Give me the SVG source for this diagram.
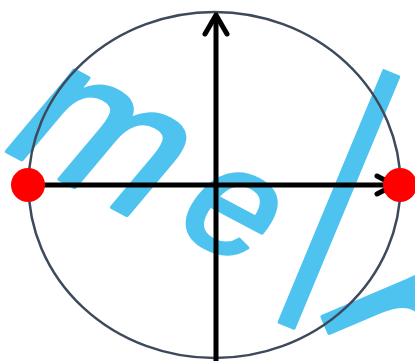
<svg xmlns="http://www.w3.org/2000/svg" width="415" height="361" viewBox="0 0 415 361">
  <style>
    .wm { fill: #4fc3ef; stroke: #4fc3ef; stroke-width: 4; stroke-linejoin: round; font-family: "Liberation Sans", Arial, sans-serif; }
    .axis { stroke: #000; stroke-width: 5; fill: none; stroke-linecap: round; stroke-linejoin: round; }
    .dot { fill: #ff0000; }
  </style>
  <rect width="415" height="361" fill="#ffffff"/>
  <g id="watermark">
    <text class="wm" font-size="195" transform="translate(-5,145) rotate(28) skewX(-12)">m</text>
    <text class="wm" font-size="155" transform="translate(168,226) rotate(28) skewX(-10)">e</text>
    <text class="wm" font-size="290" stroke-width="0" transform="translate(286,258) rotate(22.6) scale(0.7,1)">|</text>
    <text class="wm" font-size="200" transform="translate(317,304) rotate(67)">r</text>
  </g>
  <g id="circle">
    <ellipse cx="214.5" cy="185" rx="186" ry="173" fill="none" stroke="#3d4a5c" stroke-width="2.5"/>
  </g>
  <g id="connectors">
    <g id="y-axis">
      <line class="axis" x1="216" y1="361" x2="216" y2="16"/>
      <polyline class="axis" points="205,34 216,15 227,34"/>
    </g>
    <g id="x-axis">
      <line class="axis" x1="28" y1="185" x2="394" y2="185" stroke-width="4.5"/>
      <polyline class="axis" points="377,176 394,185 377,194"/>
    </g>
  </g>
  <g id="point-left">
    <circle class="dot" cx="28" cy="185" r="17"/>
  </g>
  <g id="point-right">
    <circle class="dot" cx="400" cy="185" r="17"/>
  </g>
</svg>
